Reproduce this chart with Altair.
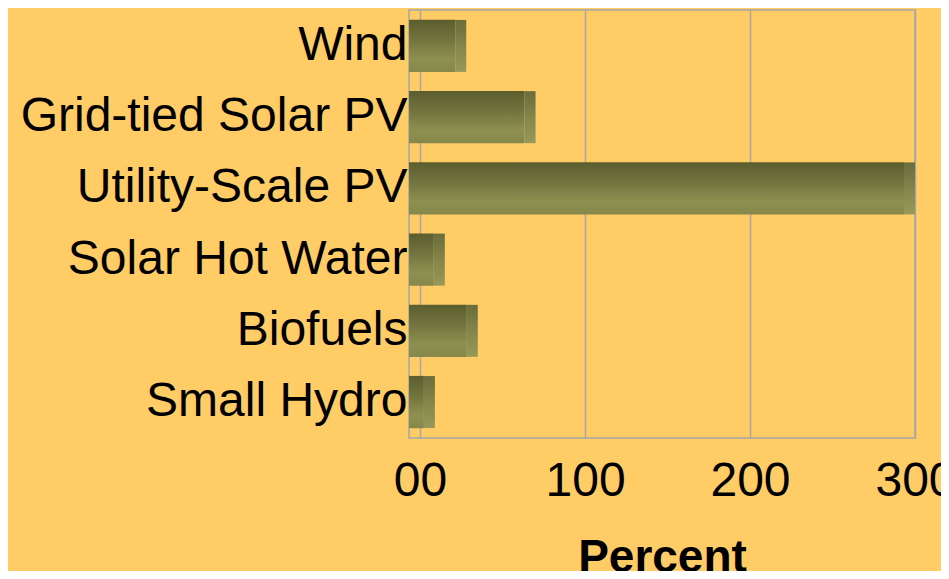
import altair as alt
import pandas as pd

categories = ["Wind", "Grid-tied Solar PV", "Utility-Scale PV", "Solar Hot Water", "Biofuels", "Small Hydro"]
values = [28, 70, 300, 15, 35, 9]
x_ticks = [0, 100, 200, 300]

df = pd.DataFrame({"category": categories, "value": values})

front_fill = alt.Gradient(
    gradient="linear",
    stops=[
        alt.GradientStop(color="#5C5D2D", offset=0),
        alt.GradientStop(color="#737540", offset=0.4),
        alt.GradientStop(color="#8E904F", offset=0.75),
        alt.GradientStop(color="#85884A", offset=1),
    ],
    x1=0, x2=0, y1=0, y2=1,
)
side_fill = alt.Gradient(
    gradient="linear",
    stops=[
        alt.GradientStop(color="#6A6C3C", offset=0),
        alt.GradientStop(color="#83854B", offset=0.5),
        alt.GradientStop(color="#979959", offset=1),
    ],
    x1=0, x2=0, y1=0, y2=1,
)

y_enc = alt.Y(
    "category:N",
    sort=categories,
    scale=alt.Scale(paddingInner=0.265, paddingOuter=0.137),
    axis=alt.Axis(
        title=None,
        ticks=False,
        domain=False,
        labelFont="Liberation Sans",
        labelFontSize=48,
        labelColor="black",
        labelPadding=2,
        labelLimit=500,
    ),
)

x_enc = alt.X(
    "value:Q",
    scale=alt.Scale(domain=[-6.7, 300], nice=False, zero=False),
    axis=alt.Axis(
        title="Percent",
        values=x_ticks,
        labelExpr="datum.value == 0 ? '00' : datum.label",
        ticks=False,
        domain=False,
        grid=True,
        gridColor="#A6A6A6",
        gridWidth=1.5,
        labelFont="Liberation Sans",
        labelFontSize=48,
        labelColor="black",
        labelPadding=19,
        labelFlush=False,
        labelOverlap=False,
        titleFont="Liberation Sans",
        titleFontSize=46,
        titleFontWeight="bold",
        titleColor="black",
        titleY=97,
        titleBaseline="top",
    ),
)

base = alt.Chart(df)

front = base.mark_bar(color=front_fill, xOffset=-11, x2Offset=-11).encode(
    y=y_enc, x=x_enc, x2=alt.datum(0)
)
side = base.mark_tick(color=side_fill, thickness=11, size=52, xOffset=-5.5, opacity=1).encode(
    y=y_enc, x=x_enc
)

chart = (
    alt.layer(front, side)
    .properties(
        width=506,
        height=428,
        background="#FFCC66",
        padding={"left": 401, "top": 2, "right": 26, "bottom": 133},
        autosize=alt.AutoSizeParams(type="none"),
    )
    .configure_view(stroke="#A6A6A6", strokeWidth=1.5, fill="#FFCC66")
)

chart.save("out.html", embed_options={"renderer": "svg", "actions": False})
